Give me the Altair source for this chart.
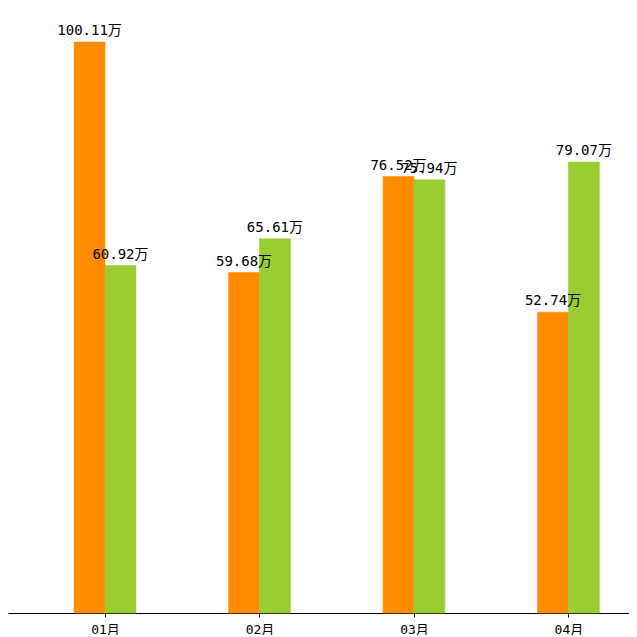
import altair as alt
import pandas as pd

# ---- data ----
months = ["01月", "02月", "03月", "04月"]
series = ["系列1", "系列2"]
orange_vals = [100.11, 59.68, 76.52, 52.74]
green_vals = [60.92, 65.61, 75.94, 79.07]
colors = ["#FF8C00", "#9ACD32"]

rows = []
for i, m in enumerate(months):
    for k, vals in enumerate([orange_vals, green_vals]):
        rows.append({"idx": i, "k": k, "month": m, "series": series[k], "value": vals[i]})
df = pd.DataFrame(rows)

BW = 0.2
label_expr = "[" + ",".join("'" + m + "'" for m in months) + "][datum.value]"
FONT = "DejaVu Sans Mono, Noto Sans CJK SC"

base = alt.Chart(df).transform_calculate(
    x0=f"datum.idx - {BW} + datum.k * {BW}",
    x1=f"datum.idx + datum.k * {BW}",
    xc=f"datum.idx - {BW/2} + datum.k * {BW}",
    label="format(datum.value, '.2f') + '万'",
)

xscale = alt.Scale(domain=[-0.628, 3.392], nice=False, zero=False)
yscale = alt.Scale(domain=[0, 106.07], nice=False, zero=True)
cscale = alt.Scale(domain=series, range=colors)

bars = base.mark_bar(opacity=1, strokeWidth=0.6).encode(
    x=alt.X("x0:Q", scale=xscale,
            axis=alt.Axis(values=[0, 1, 2, 3], labelExpr=label_expr, title=None,
                          grid=False, tickSize=4, labelPadding=6, labelFontSize=13,
                          labelFont=FONT, labelColor="#000", domainColor="#000",
                          tickColor="#000", domainWidth=1, labelFlush=False)),
    x2="x1:Q",
    y=alt.Y("value:Q", scale=yscale, axis=None),
    y2=alt.datum(0),
    color=alt.Color("series:N", scale=cscale, legend=None),
    stroke=alt.Stroke("series:N", scale=cscale, legend=None),
)

texts = base.mark_text(align="center", baseline="bottom", dy=-4, fontSize=14,
                       font=FONT, color="#000").encode(
    x=alt.X("xc:Q", scale=xscale),
    y=alt.Y("value:Q", scale=yscale),
    text="label:N",
)

chart = alt.layer(bars, texts).properties(
    width=621, height=605,
    autosize=alt.AutoSizeParams(type="none"),
    padding={"left": 0, "top": 0, "right": 0, "bottom": 22},
).configure_view(stroke=None)

chart.save("out.html", embed_options={"renderer": "svg", "actions": False})
